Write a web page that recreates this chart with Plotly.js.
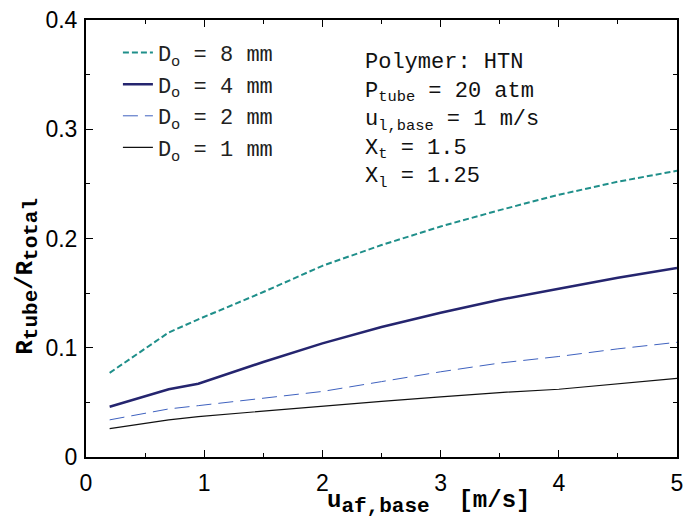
<!DOCTYPE html>
<html><head><meta charset="utf-8">
<script src="https://cdn.plot.ly/plotly-3.0.1.min.js"></script>
<style>body{margin:0;background:#fff}#chart{width:683px;height:525px}</style>
</head><body><div id="chart"></div>
<script>
const uaf = [0.2, 0.7, 0.95, 1.5, 2, 2.5, 3, 3.5, 4, 4.5, 5];
const ratioD8 = [0.077, 0.114, 0.126, 0.151, 0.175, 0.194, 0.211, 0.226, 0.240, 0.252, 0.262];
const ratioD4 = [0.046, 0.062, 0.067, 0.087, 0.104, 0.119, 0.132, 0.144, 0.154, 0.164, 0.173];
const ratioD2 = [0.034, 0.044, 0.047, 0.054, 0.060, 0.069, 0.078, 0.086, 0.092, 0.099, 0.105];
const ratioD1 = [0.026, 0.034, 0.037, 0.042, 0.047, 0.051, 0.055, 0.059, 0.062, 0.067, 0.072];
const seriesNames = ['D<sub>o</sub> = 8 mm', 'D<sub>o</sub> = 4 mm', 'D<sub>o</sub> = 2 mm', 'D<sub>o</sub> = 1 mm'];
const xTicks = [0, 1, 2, 3, 4, 5];
const yTicks = [0, 0.1, 0.2, 0.3, 0.4];
const yTickText = ['0', '0.1', '0.2', '0.3', '0.4'];
const infoLines = ['Polymer: HTN', 'P<sub>tube</sub> = 20 atm', 'u<sub>l,base</sub> = 1 m/s', 'X<sub>t</sub> = 1.5', 'X<sub>l</sub> = 1.25'];

const traces = [
  {x: uaf, y: ratioD8, name: seriesNames[0], mode: 'lines', line: {color: '#1f8f8a', width: 2, dash: '6px,3px'}},
  {x: uaf, y: ratioD4, name: seriesNames[1], mode: 'lines', line: {color: '#25256f', width: 2.5}},
  {x: uaf, y: ratioD2, name: seriesNames[2], mode: 'lines', line: {color: '#3f62bf', width: 1, dash: '15px,7px'}},
  {x: uaf, y: ratioD1, name: seriesNames[3], mode: 'lines', line: {color: '#111111', width: 1.2}}
];

const mono = 'Liberation Mono, Courier New, monospace';
const sans = 'Liberation Sans, Arial, sans-serif';
function axisCommon(tickvals, ticktext, minorD) {
  return {tickvals: tickvals, ticktext: ticktext, showgrid: false, zeroline: false,
    showline: true, linecolor: '#000', linewidth: 2, mirror: 'ticks', ticks: 'inside', ticklen: 7, tickcolor: '#000', tickwidth: 1,
    minor: {dtick: minorD, ticks: 'inside', ticklen: 4, tickcolor: '#000', tickwidth: 1, showgrid: false},
    ticklabeloverflow: 'allow',
    tickfont: {family: sans, size: 23, color: '#000'}};
}
const xAxis = Object.assign(axisCommon(xTicks, xTicks.map(String), 0.5), {range: [0, 5], ticklabelstandoff: 4});
const yAxis = Object.assign(axisCommon(yTicks, yTickText, 0.05), {range: [0, 0.4], ticklabelstandoff: 2});

const sub = (t, px) => '<sub><span style="font-size:' + px + 'px">' + t + '</span></sub>';

const layout = {
  width: 683, height: 525,
  margin: {l: 86, r: 6, t: 20, b: 68},
  paper_bgcolor: '#fff', plot_bgcolor: '#fff',
  showlegend: true,
  legend: {x: 0.054, y: 0.973, xanchor: 'left', yanchor: 'top', bgcolor: 'rgba(0,0,0,0)',
    font: {family: mono, size: 22, color: '#222'}, tracegroupgap: 0},
  xaxis: xAxis,
  yaxis: yAxis,
  annotations: [
    {xref: 'paper', yref: 'paper', x: 0.468, y: 0.935, xanchor: 'left', yanchor: 'top', align: 'left',
      showarrow: false, text: infoLines.join('<br>'), font: {family: mono, size: 22, color: '#111'}},
    {xref: 'paper', yref: 'paper', x: 0.579, y: -0.065, xanchor: 'center', yanchor: 'top', showarrow: false,
      text: '<b>u' + sub('af,base', 21) + '\u00A0 [m/s]</b>', font: {family: mono, size: 24, color: '#000'}},
    {xref: 'paper', yref: 'paper', x: -0.099, y: 0.414, xanchor: 'center', yanchor: 'middle', textangle: -90, showarrow: false,
      text: '<b>R' + sub('tube', 21) + '/R' + sub('total', 21) + '</b>', font: {family: mono, size: 24, color: '#000'}}
  ]
};
Plotly.newPlot('chart', traces, layout, {displayModeBar: false, staticPlot: true});
</script></body></html>
